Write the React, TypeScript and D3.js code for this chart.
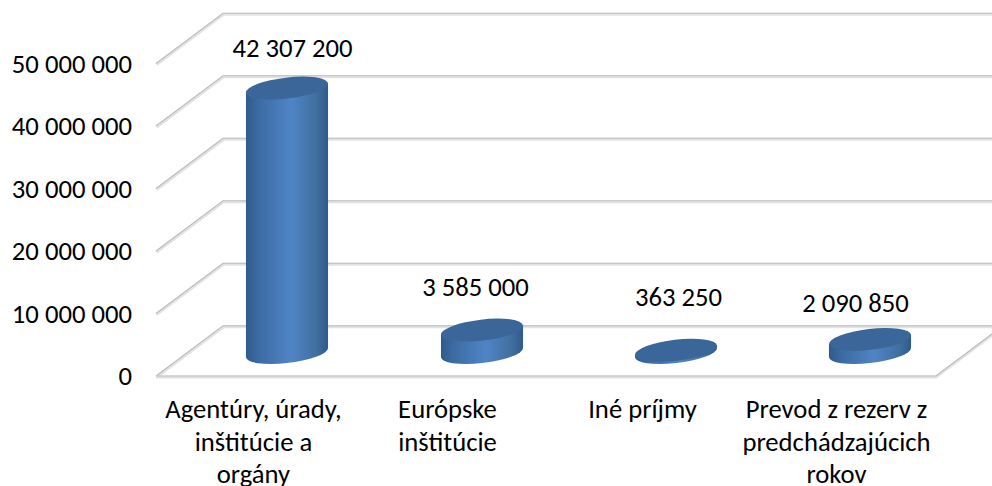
import React from "react";
import * as d3 from "d3";

const categories = [
  ["Agentúry, úrady,", "inštitúcie a", "orgány"],
  ["Európske", "inštitúcie"],
  ["Iné príjmy"],
  ["Prevod z rezerv z", "predchádzajúcich", "rokov"],
];
const values = [42307200, 3585000, 363250, 2090850];
const valueLabels = ["42 307 200", "3 585 000", "363 250", "2 090 850"];
const ticks = [0, 10000000, 20000000, 30000000, 40000000, 50000000];
const tickLabels = ["0", "10 000 000", "20 000 000", "30 000 000", "40 000 000", "50 000 000"];

const W = 992, H = 486;
const FONT = "Carlito, Calibri, Lato, 'Open Sans', sans-serif";
const y = d3.scaleLinear().domain([0, 50000000]).range([376, 63.5]);
const DX = 67, DY = -50.2;
const BASE_LIFT = 23.5;
const CY_X = [287, 482, 676, 870];
const LABEL_X = [292.5, 475.5, 678.5, 855.5];
const LABEL_BASE = [57, 296, 305.5, 312];
const CAT_X = [253.5, 447.5, 642.5, 836.5];
const CAT_BASE = [417.5, 450.5, 483];
const RX = 41.3, RY = 10.5, ROT = -6.7;

function Grid() {
  const floor = d3.line()([[156, 376], [936, 376], [1003, 325.8]]) as string;
  return (
    <g fill="none">
      {ticks.map((t) => {
        const yy = y(t);
        const d = d3.line()([[156, yy], [156 + DX, yy + DY], [W + 10, yy + DY]]) as string;
        return (
          <g key={t}>
            <path d={d} stroke="#e2e2e2" strokeWidth={3} transform="translate(0.5,1)" />
            <path d={d} stroke="#bdbdbd" strokeWidth={1.1} />
          </g>
        );
      })}
      <path d={floor} stroke="#e2e2e2" strokeWidth={3} transform="translate(0,1)" />
      <path d={floor} stroke="#bdbdbd" strokeWidth={1.1} />
    </g>
  );
}

function Cylinder({ v, i }: { v: number; i: number }) {
  const cx = CY_X[i];
  const bottom = y(0) - BASE_LIFT;
  const top = y(v) - BASE_LIFT;
  const t = (ROT * Math.PI) / 180;
  const a = RX, b = RY;
  const w = Math.sqrt(a * a * Math.cos(t) ** 2 + b * b * Math.sin(t) ** 2);
  const off = ((a * a - b * b) * Math.sin(t) * Math.cos(t)) / w;
  const side =
    `M${cx - w},${top - off} L${cx - w},${bottom - off} ` +
    `A${a},${b} ${ROT} 0 0 ${cx + w},${bottom + off} ` +
    `L${cx + w},${top + off} Z`;
  return (
    <g>
      <path d={side} fill="url(#side)" />
      <ellipse cx={0} cy={0} rx={a} ry={b} fill="#3b6699"
        transform={`translate(${cx},${top}) rotate(${ROT})`} />
    </g>
  );
}

export default function App() {
  return (
    <svg width={W} height={H} viewBox={`0 0 ${W} ${H}`}
      style={{ position: "absolute", left: 0, top: 0, background: "#fff" }}>
      <defs>
        <linearGradient id="side" x1="0" x2="1" y1="0" y2="0">
          <stop offset="0" stopColor="#2f5a8c" />
          <stop offset="0.15" stopColor="#3c6ba3" />
          <stop offset="0.55" stopColor="#4f84c6" />
          <stop offset="0.85" stopColor="#41709f" />
          <stop offset="1" stopColor="#2f5a8c" />
        </linearGradient>
      </defs>
      <Grid />
      {values.map((v, i) => <Cylinder key={i} v={v} i={i} />)}
      <g fontFamily={FONT} fontSize={26.67} fill="#000">
        {ticks.map((t, i) => (
          <text key={t} x={132} y={y(t) + 9} textAnchor="end">{tickLabels[i]}</text>
        ))}
        {valueLabels.map((s, i) => (
          <text key={s} x={LABEL_X[i]} y={LABEL_BASE[i]} textAnchor="middle">{s}</text>
        ))}
        {categories.map((lines, i) =>
          lines.map((l, j) => (
            <text key={l} x={CAT_X[i]} y={CAT_BASE[j]} textAnchor="middle">{l}</text>
          ))
        )}
      </g>
    </svg>
  );
}
